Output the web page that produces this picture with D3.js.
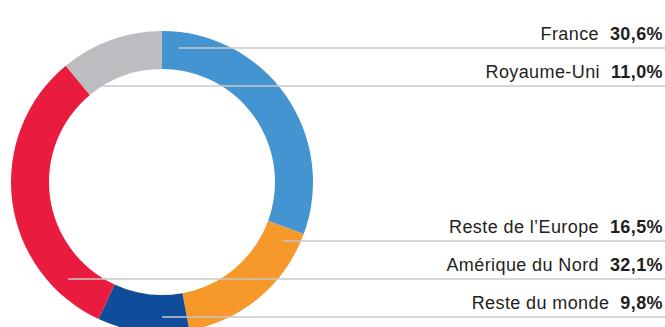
<!DOCTYPE html>
<html>
<head>
<meta charset="utf-8">
<script src="https://cdn.jsdelivr.net/npm/d3@7"></script>
<style>
  html, body { margin: 0; padding: 0; background: #fff; }
  svg { display: block; }
</style>
</head>
<body>
<svg id="chart" width="665" height="327"></svg>
<script>
// Slices, clockwise from 12 o'clock
const regions = ["France", "Reste de l\u2019Europe", "Reste du monde", "Amérique du Nord", "Royaume-Uni"];
const shares  = [30.6, 16.5, 9.8, 32.1, 11.0];
const colors  = ["#4394d0", "#f6982a", "#0f4c99", "#e91c3f", "#bcbdc0"];

// Label stack on the right: upper group and lower group
const upperLabels = ["France", "Royaume-Uni"];
const lowerLabels = ["Reste de l\u2019Europe", "Amérique du Nord", "Reste du monde"];

const W = 665, H = 327;
const cx = 162, cy = 182;
const outerR = 151, innerR = 113, leadR = 135;
const rowStep = 38;
const upperTop = 48, lowerTop = 241;
const textRight = 663;

const svg = d3.select("#chart");

const data = regions.map((r, i) => ({ region: r, share: shares[i], color: colors[i] }));

const pie = d3.pie().sort(null).value(d => d.share);
const arcs = pie(data);
const arc = d3.arc().innerRadius(innerR).outerRadius(outerR);

const g = svg.append("g").attr("transform", `translate(${cx},${cy})`);
g.selectAll("path")
  .data(arcs)
  .join("path")
  .attr("d", arc)
  .attr("fill", d => d.data.color);

// Row positions for each label
const rowY = {};
upperLabels.forEach((n, i) => rowY[n] = upperTop + i * rowStep);
lowerLabels.forEach((n, i) => rowY[n] = lowerTop + i * rowStep);

// Angle (clockwise from top) of a point relative to the centre
function angleOf(x, y) {
  let a = Math.atan2(x - cx, cy - y);
  if (a < 0) a += 2 * Math.PI;
  return a;
}
function inside(a, s) { return a >= s.startAngle && a <= s.endAngle; }

// Leader start: where the row meets the ring inside its own slice
function leaderStart(s, y) {
  const dy = y - cy;
  for (const r of [leadR, innerR, outerR]) {
    if (Math.abs(dy) > r) continue;
    const dx = Math.sqrt(r * r - dy * dy);
    for (const x of [cx + dx, cx - dx]) {
      if (inside(angleOf(x, y), s)) return x;
    }
  }
  return cx + arc.centroid(s)[0];
}

const labels = svg.append("g");
arcs.forEach(s => {
  const name = s.data.region;
  const y = rowY[name];
  const x0 = leaderStart(s, y);
  labels.append("line")
    .attr("x1", x0).attr("x2", W)
    .attr("y1", y).attr("y2", y)
    .attr("stroke", "#c9c9c9")
    .attr("stroke-width", 1.5);

  const t = labels.append("text")
    .attr("x", textRight)
    .attr("y", y - 8)
    .attr("text-anchor", "end")
    .attr("font-family", "'Liberation Sans', Arial, Helvetica, sans-serif")
    .attr("font-size", 18)
    .attr("letter-spacing", 0.4)
    .attr("fill", "#231f20");
  t.append("tspan").text(name);
  t.append("tspan")
    .attr("dx", 11)
    .attr("font-weight", "bold")
    .text(d3.format(".1f")(s.data.share).replace(".", ",") + "%");
});
</script>
</body>
</html>
